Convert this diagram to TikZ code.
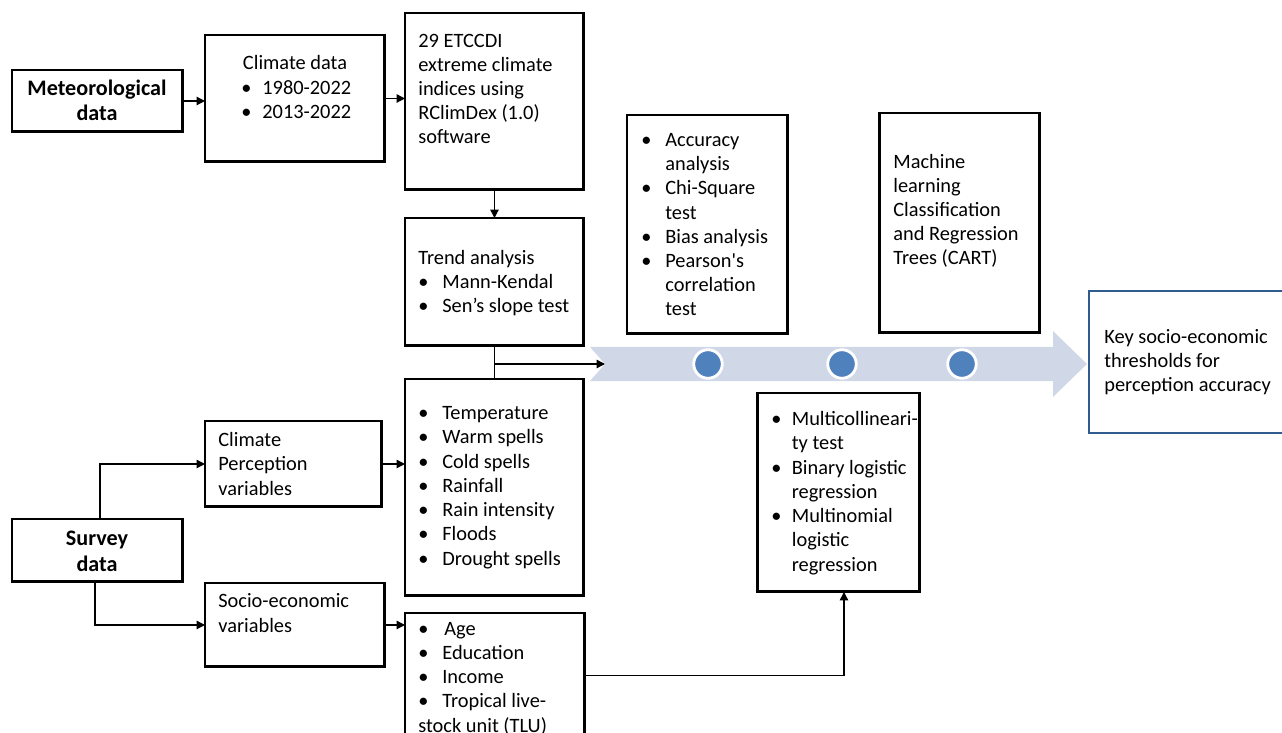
\documentclass[tikz,border=0pt]{standalone}
\usepackage{fontspec}
\setmainfont{Carlito}
\usetikzlibrary{arrows.meta}
\definecolor{bandgray}{HTML}{D0D8E8}
\definecolor{dotblue}{HTML}{4F81BD}
\definecolor{keyblue}{HTML}{2F5B8F}
\newcommand{\blt}[1][0.48cm]{\makebox[#1][l]{\textbullet}}

\begin{document}
\begin{tikzpicture}[x=0.02cm, y=-0.02cm,
    font=\fontsize{11.6}{13.8}\selectfont,
    box/.style={draw, line width=1.7pt, inner sep=0pt, outer sep=0pt, anchor=north west},
    txt/.style={anchor=base west, align=left, inner sep=0pt},
    mid/.style={anchor=base, align=center, inner sep=0pt,
      font=\fontsize{12.6}{14.6}\selectfont\bfseries},
    dot/.style={circle, fill=dotblue, draw=white, line width=1.6pt, minimum size=0.57cm, inner sep=0pt},
    arr/.style={line width=0.75pt, -{Triangle[length=0.17cm,width=0.17cm]}}]
  \useasboundingbox (0,0) rectangle (1282,733);

  % wide arrow with the three dots
  \fill[bandgray] (590,347) -- (1053,347) -- (1053,331) -- (1087,364)
    -- (1053,397) -- (1053,381) -- (590,381) -- (605,364) -- cycle;
  \coordinate (band) at (605,364);
  \node[dot] (d1) at (708,364) {};
  \node[dot] (d2) at (842,364) {};
  \node[dot] (d3) at (962,364) {};

  % boxes
  \node[box, minimum width=3.42cm, minimum height=1.24cm] (met) at (12,70) {};
  \node[box, minimum width=3.60cm, minimum height=2.54cm] (clim) at (205,35) {};
  \node[box, minimum width=3.58cm, minimum height=3.54cm] (etccdi) at (405,13) {};
  \node[box, minimum width=3.58cm, minimum height=2.56cm] (trend) at (405,218) {};
  \node[box, minimum width=3.22cm, minimum height=4.38cm] (acc) at (627,115) {};
  \node[box, minimum width=3.22cm, minimum height=4.40cm] (cart) at (879,113) {};
  \node[box, draw=keyblue, line width=1.5pt, minimum width=4.30cm, minimum height=2.84cm] (key) at (1089,291) {};
  \node[box, minimum width=3.58cm, minimum height=4.34cm] (vars) at (405,379) {};
  \node[box, minimum width=3.54cm, minimum height=1.72cm] (perc) at (205,421) {};
  \node[box, minimum width=3.42cm, minimum height=1.26cm] (survey) at (12,519) {};
  \node[box, minimum width=3.60cm, minimum height=1.68cm] (socio) at (205,583) {};
  \node[box, minimum width=3.60cm, minimum height=2.94cm] (socvars) at (405,613) {};
  \node[box, minimum width=3.26cm, minimum height=3.98cm] (models) at (757,393) {};

  % texts (placed at the baseline of their last line)
  \node[mid] (metT) at (97,121) {Meteorological\\data};
  \node[txt, anchor=base] (climT) at (295,70) {Climate data};
  \node[txt] (climL) at (241,119) {\blt[0.42cm]1980-2022\\\blt[0.42cm]2013-2022};
  \node[txt] (etccdiT) at (418,144) {29 ETCCDI\\extreme climate\\indices using\\RClimDex (1.0)\\software};
  \node[txt] (trendT) at (418,313) {Trend analysis\\\blt Mann-Kendal\\\blt Sen’s slope test};
  \node[txt] (accT) at (641,316) {\blt Accuracy\\\hspace*{0.48cm}analysis\\\blt Chi-Square\\\hspace*{0.48cm}test\\\blt Bias analysis\\\blt Pearson\textquotesingle s\\\hspace*{0.48cm}correlation\\\hspace*{0.48cm}test};
  \node[txt] (cartT) at (893,265) {Machine\\learning\\Classification\\and Regression\\Trees (CART)};
  \node[txt] (keyT) at (1104,392) {Key socio-economic\\thresholds for\\perception accuracy};
  \node[txt] (varsT) at (418,565) {\blt Temperature\\\blt Warm spells\\\blt Cold spells\\\blt Rainfall\\\blt Rain intensity\\\blt Floods\\\blt Drought spells};
  \node[txt] (percT) at (218,495) {Climate\\Perception\\variables};
  \node[mid] (surveyT) at (97,571) {Survey\\data};
  \node[txt] (socioT) at (218,632) {Socio-economic\\variables};
  \node[txt] (socvarsT) at (418,732) {\blt[0.52cm]Age\\\blt Education\\\blt Income\\\blt Tropical live-\\stock unit (TLU)};
  \node[txt] (modelsT) at (771,571) {\blt[0.41cm]Multicollineari-\\\hspace*{0.41cm}ty test\\\blt[0.41cm]Binary logistic\\\hspace*{0.41cm}regression\\\blt[0.41cm]Multinomial\\\hspace*{0.41cm}logistic\\\hspace*{0.41cm}regression};

  % connectors
  \coordinate (split) at (494,364);
  \draw[arr] (met.east) -- (met.east -| clim.west);
  \draw[arr] (clim.east) -- (clim.east -| etccdi.west);
  \draw[arr] (etccdi.south) -- (trend.north);
  \draw[line width=0.75pt] (trend.south) -- (vars.north);
  \draw[arr] (split) -- (band);
  \draw[arr] ([xshift=0.05cm]survey.north) |- (perc.west);
  \draw[arr] ([xshift=-0.05cm]survey.south) |- (socio.west);
  \draw[arr] (perc.east) -- (perc.east -| vars.west);
  \draw[arr] (socio.east) -- (socio.east -| socvars.west);
  \draw[arr] ([yshift=0.22cm]socvars.east) -| ([xshift=0.11cm]models.south);
\end{tikzpicture}
\end{document}
